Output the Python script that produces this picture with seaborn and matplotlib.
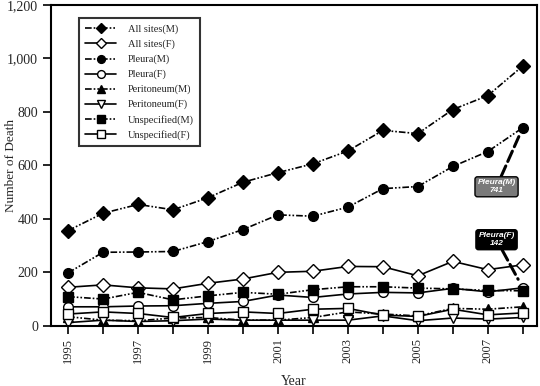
import numpy as np
import pandas as pd
import matplotlib
matplotlib.use("Agg")
import matplotlib.pyplot as plt
import seaborn as sns

years = list(range(1995, 2009))
all_sites_m = [356, 421, 454, 434, 479, 537, 573, 606, 654, 731, 719, 809, 861, 972]
all_sites_f = [144, 153, 142, 138, 159, 175, 200, 204, 222, 221, 187, 241, 210, 228]
pleura_m = [198, 275, 276, 278, 315, 360, 415, 410, 444, 513, 521, 596, 652, 741]
pleura_f = [71, 71, 74, 75, 84, 91, 115, 106, 119, 125, 123, 140, 127, 142]
peritoneum_m = [34, 21, 19, 29, 31, 21, 21, 31, 52, 44, 37, 65, 62, 71]
peritoneum_f = [12, 21, 16, 19, 25, 21, 21, 21, 21, 37, 19, 29, 25, 31]
unspec_m = [109, 100, 125, 97, 112, 125, 118, 135, 146, 146, 141, 138, 132, 131]
unspec_f = [44, 52, 46, 31, 46, 52, 46, 62, 65, 40, 35, 62, 41, 48]

series_names = ["All sites(M)", "All sites(F)", "Pleura(M)", "Pleura(F)",
                "Peritoneum(M)", "Peritoneum(F)", "Unspecified(M)", "Unspecified(F)"]
series_values = [all_sites_m, all_sites_f, pleura_m, pleura_f,
                 peritoneum_m, peritoneum_f, unspec_m, unspec_f]
markers = ["D", "D", "o", "o", "^", "v", "s", "s"]

sns.set_style("ticks")
plt.rcParams['font.family'] = ['Liberation Serif', 'DejaVu Serif']

fig, ax = plt.subplots(figsize=(5.4, 3.86), dpi=100)
fig.subplots_adjust(left=0.095, right=0.994, top=0.987, bottom=0.156)

for name, vals, mk in zip(series_names, series_values, markers):
    df = pd.DataFrame({"Year": years, "Deaths": vals})
    male = name.endswith("(M)")
    ls = (0, (4, 1.2, 1, 1.2, 1, 1.2)) if male else "-"
    sns.lineplot(data=df, x="Year", y="Deaths", ax=ax, label=name,
                 color="black", linewidth=1.2, linestyle=ls,
                 marker=mk, markersize=7 if mk != "D" else 6.8,
                 markerfacecolor="black" if male else "white",
                 markeredgecolor="black", markeredgewidth=1.0)

ax.set_xlim(1994.52, 2008.4)
ax.set_ylim(0, 1200)
ax.set_xticks(years)
ax.set_xticklabels([str(y) if (y - 1995) % 2 == 0 else "" for y in years],
                   rotation=90, fontsize=9)
ax.set_yticks(range(0, 1201, 200))
ax.set_yticklabels([f"{v:,}" for v in range(0, 1201, 200)], fontsize=10)
ax.tick_params(axis="both", direction="out", length=6, width=1.2, color="black")
ax.tick_params(axis="x", pad=3)
for sp in ax.spines.values():
    sp.set_linewidth(1.5)
    sp.set_color("black")
ax.set_xlabel("Year", fontsize=10, labelpad=8)
ax.set_ylabel("Number of Death", fontsize=9.5)
ax.yaxis.set_label_coords(-0.07, 0.5)

leg = ax.legend(loc="upper left", bbox_to_anchor=(0.057, 0.958), frameon=True,
                fancybox=False, edgecolor="black", fontsize=7.5,
                handlelength=3.0, labelspacing=0.52, borderpad=0.6,
                handletextpad=1.1, borderaxespad=0, markerscale=0.8)
leg.get_frame().set_linewidth(1.5)

ann_font = dict(family=['Liberation Sans', 'DejaVu Sans'], fontsize=6,
                fontweight="bold", fontstyle="italic", ha="center", va="center")
ax.annotate("Pleura(M)\n741", xy=(2008, pleura_m[-1]), xytext=(2007.25, 520),
            color="white", **ann_font,
            bbox=dict(boxstyle="round,pad=0.3", fc="#7a7a7a", ec="black", lw=1),
            arrowprops=dict(arrowstyle="-", linestyle="--", lw=2.2, color="black",
                            shrinkA=0, shrinkB=7))
ax.annotate("Pleura(F)\n142", xy=(2008, pleura_f[-1]), xytext=(2007.25, 322),
            color="white", **ann_font,
            bbox=dict(boxstyle="round,pad=0.3", fc="black", ec="black", lw=1),
            arrowprops=dict(arrowstyle="-", linestyle="--", lw=2.2, color="black",
                            shrinkA=0, shrinkB=7))

fig.savefig("out.png", dpi=100)
